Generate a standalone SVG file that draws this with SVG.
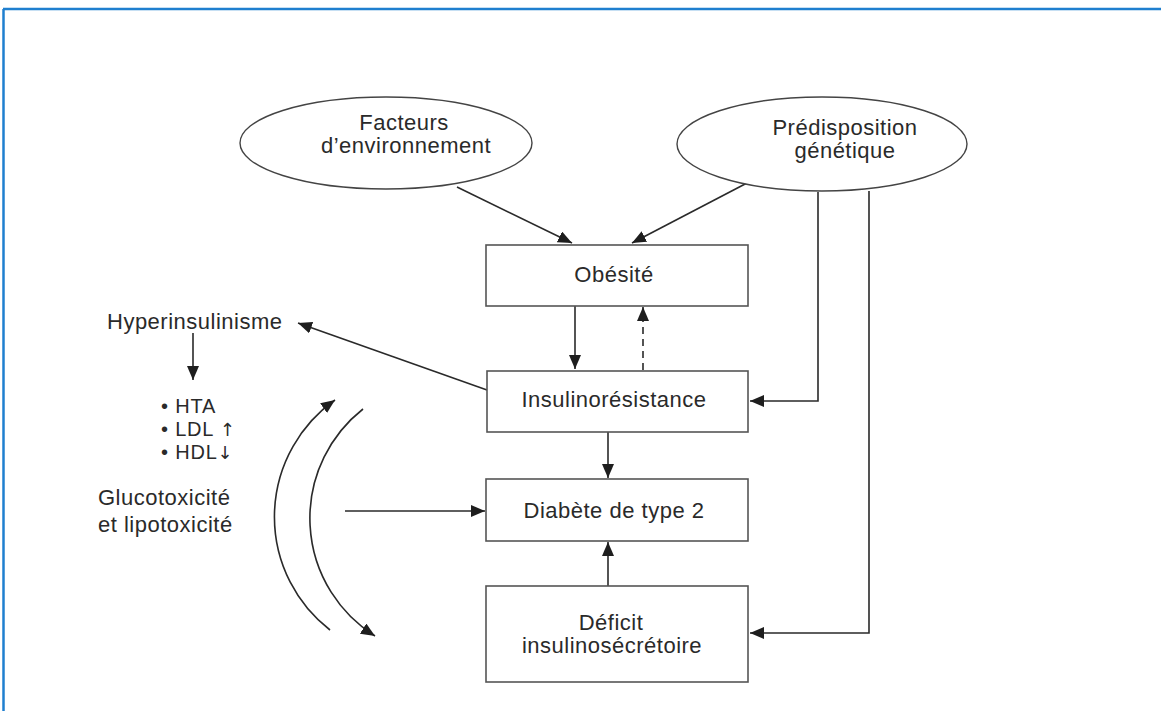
<svg xmlns="http://www.w3.org/2000/svg" width="1161" height="711" viewBox="0 0 1161 711">
<style>
.t{font-family:"Liberation Sans",Arial,sans-serif;font-size:22px;letter-spacing:0.5px;fill:#2a2a2a}
.b{font-size:20px;letter-spacing:0.8px}
.ar{font-family:"DejaVu Sans",sans-serif;font-size:18px;fill:#2a2a2a;letter-spacing:0}
.c{text-anchor:middle}
.box{fill:#fff;stroke:#555;stroke-width:1.6}
.ell{fill:#fff;stroke:#444;stroke-width:1.4}
.ln{fill:none;stroke:#2a2a2a;stroke-width:1.6}
</style>
<defs>
<marker id="ah" viewBox="0 0 14 12" refX="14" refY="6" markerWidth="14" markerHeight="12" orient="auto" markerUnits="userSpaceOnUse"><path d="M0,0 L14,6 L0,12 z" fill="#1e1e1e"/></marker>
</defs>
<rect width="1161" height="711" fill="#fff"/>
<g id="frame">
<line x1="3" y1="9" x2="1161" y2="9" stroke="#1f7fcf" stroke-width="2.5"/>
<line x1="3.5" y1="9" x2="3.5" y2="711" stroke="#1f7fcf" stroke-width="2.5"/>
</g>
<g id="connectors">
<line class="ln" x1="457" y1="187" x2="572" y2="243" marker-end="url(#ah)"/>
<line class="ln" x1="747" y1="183" x2="632" y2="243" marker-end="url(#ah)"/>
<line class="ln" x1="575" y1="306" x2="575" y2="369" marker-end="url(#ah)"/>
<line class="ln" x1="643" y1="370" x2="643" y2="307" stroke-dasharray="7,5" marker-end="url(#ah)"/>
<polyline class="ln" points="818,192 818,401 750,401" marker-end="url(#ah)"/>
<polyline class="ln" points="869,191 869,633 750,633" marker-end="url(#ah)"/>
<line class="ln" x1="608" y1="432" x2="608" y2="478" marker-end="url(#ah)"/>
<line class="ln" x1="608" y1="586" x2="608" y2="542" marker-end="url(#ah)"/>
<line class="ln" x1="345" y1="511" x2="485" y2="511" marker-end="url(#ah)"/>
<line class="ln" x1="487" y1="390" x2="298" y2="323" marker-end="url(#ah)"/>
<line class="ln" x1="193" y1="333" x2="193" y2="380" marker-end="url(#ah)"/>
<path class="ln" d="M330,630 A143,143 0 0 1 335,400" marker-end="url(#ah)"/>
<path class="ln" d="M363,409 A139,139 0 0 0 375,636" marker-end="url(#ah)"/>
</g>
<g id="facteurs">
<ellipse class="ell" cx="386" cy="143" rx="146" ry="46"/>
<text class="t c" x="404" y="130">Facteurs</text>
<text class="t c" x="406" y="153">d’environnement</text>
</g>
<g id="predisposition">
<ellipse class="ell" cx="822" cy="144" rx="145" ry="47"/>
<text class="t c" x="845" y="135">Prédisposition</text>
<text class="t c" x="845" y="158">génétique</text>
</g>
<g id="obesite">
<rect class="box" x="486" y="245" width="262" height="61"/>
<text class="t c" x="614" y="282">Obésité</text>
</g>
<g id="insulinoresistance">
<rect class="box" x="487" y="371" width="261" height="61"/>
<text class="t c" x="614" y="407">Insulinorésistance</text>
</g>
<g id="diabete">
<rect class="box" x="486" y="479" width="262" height="62"/>
<text class="t c" x="614" y="518">Diabète de type 2</text>
</g>
<g id="deficit">
<rect class="box" x="486" y="586" width="262" height="96"/>
<text class="t c" x="611" y="630">Déficit</text>
<text class="t c" x="612" y="653">insulinosécrétoire</text>
</g>
<g id="hyperinsulinisme">
<text class="t" x="107" y="329">Hyperinsulinisme</text>
</g>
<g id="effets">
<text class="t b" x="161" y="413">• HTA</text>
<text class="t b" x="161" y="436">• LDL <tspan class="ar">↑</tspan></text>
<text class="t b" x="161" y="459">• HDL<tspan class="ar">↓</tspan></text>
</g>
<g id="glucotoxicite">
<text class="t" x="98" y="505">Glucotoxicité</text>
<text class="t" x="98" y="532">et lipotoxicité</text>
</g>
</svg>
